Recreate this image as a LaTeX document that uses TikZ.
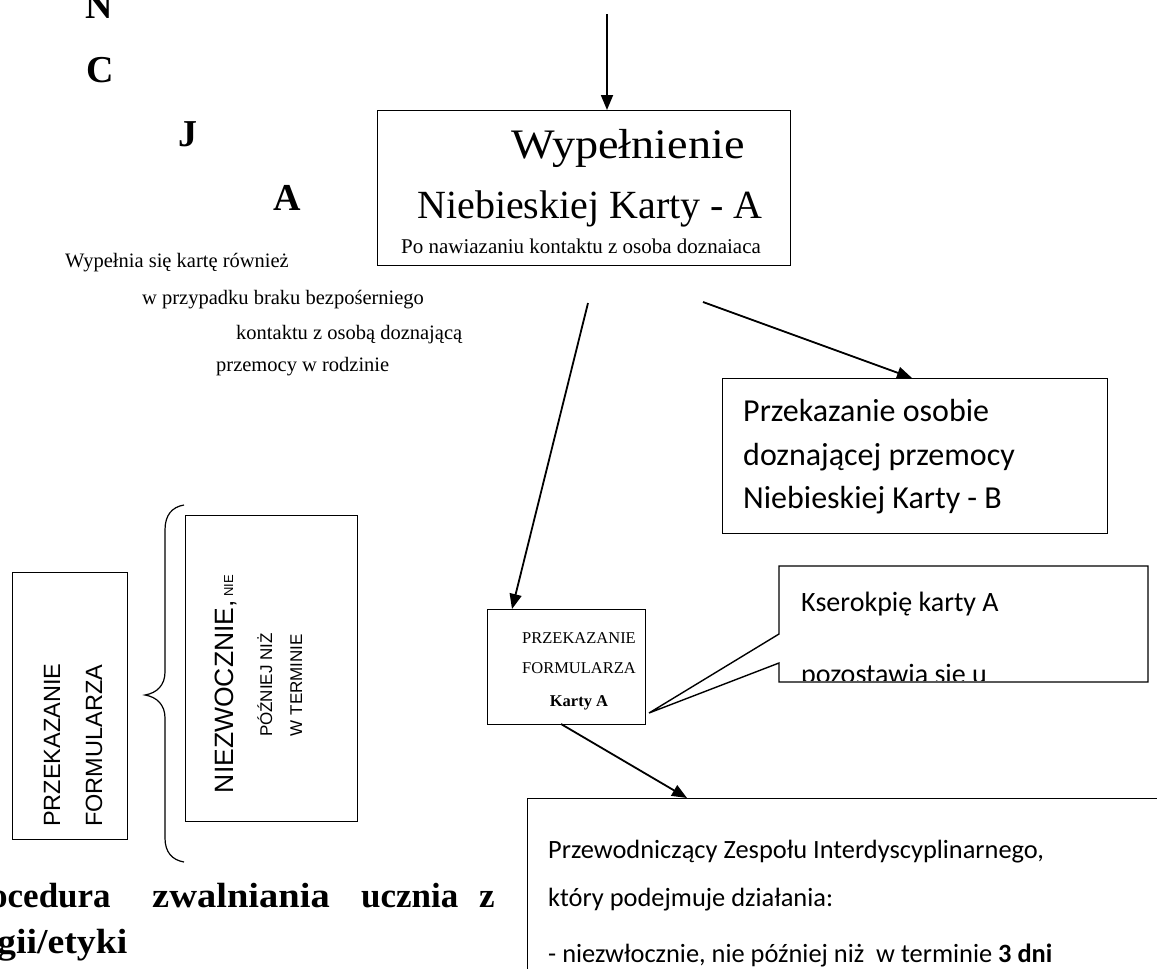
\documentclass[tikz,border=0pt]{standalone}
\usepackage{fontspec}
\setmainfont{Liberation Serif}
\newfontfamily\calib{Carlito}
\newfontfamily\arialf{Liberation Sans}
\usetikzlibrary{arrows.meta}
\begin{document}
\begin{tikzpicture}[x=1pt,y=-1pt,
  box/.style={draw, line width=1.4pt, inner sep=0pt, anchor=north west, fill=white},
  conn/.style={line width=1.8pt, -{Triangle[length=15pt,width=12pt]}},
  txt/.style={inner sep=0pt, anchor=base west},
  ctxt/.style={inner sep=0pt, anchor=base},
  big/.style={font=\bfseries\fontsize{38}{38}\selectfont},
  note/.style={txt, font=\fontsize{20.5}{20.5}\selectfont},
  ttl/.style={txt, font=\bfseries\fontsize{35}{35}\selectfont},
]
\useasboundingbox (0,0) rectangle (1157,969);
% letters
\node[txt,big] (lN) at (85,18) {N};
\node[txt,big] (lC) at (86,82) {C};
\node[txt,big] (lJ) at (178,146) {J};
\node[txt,big] (lA) at (273,210) {A};
% left note
\node[note] (n1) at (65,267) {Wypełnia się kartę również};
\node[note] (n2) at (142,304) {w przypadku braku bezpośerniego};
\node[note] (n3) at (236,339) {kontaktu z osobą doznającą};
\node[note] (n4) at (216,371) {przemocy w rodzinie};
% main box
\node[box, minimum width=413pt, minimum height=155pt] (main) at (377,110) {};
\node[ctxt,font=\fontsize{42}{42}\selectfont] (m1) at (628,158) {\scalebox{1.1}[1]{Wypełnienie}};
\node[ctxt,font=\fontsize{40}{40}\selectfont] (m2) at (590,218) {Niebieskiej Karty - A};
\node[ctxt,font=\fontsize{21}{21}\selectfont] (m3) at (581,253) {Po nawiazaniu kontaktu z osoba doznaiaca};
% right box B
\node[box, minimum width=385pt, minimum height=155pt] (kb) at (722,378) {};
\node[txt,font=\calib\fontsize{32}{32}\selectfont] (b1) at (743,421) {Przekazanie osobie};
\node[txt,font=\calib\fontsize{32}{32}\selectfont] (b2) at (743,465) {doznającej przemocy};
\node[txt,font=\calib\fontsize{32}{32}\selectfont] (b3) at (743,508) {Niebieskiej Karty - B};
% przekazanie formularza box
\node[box, minimum width=158pt, minimum height=115pt] (pf) at (487,609) {};
\node[ctxt,font=\fontsize{16.5}{16.5}\selectfont] (p1) at (579,643) {PRZEKAZANIE};
\node[ctxt,font=\fontsize{16.5}{16.5}\selectfont] (p2) at (579,673) {FORMULARZA};
\node[ctxt,font=\bfseries\fontsize{16.5}{16.5}\selectfont] (p3) at (579,706) {Karty A};
% callout
\coordinate (cu) at (779,634);
\coordinate (cl) at (779,663);
\coordinate (ct) at (649,713);
\draw[line width=1.4pt, fill=white] (cu) -- (779,566) -- (1148,566) -- (1148,682) -- (779,682) -- (cl) -- (ct) -- cycle;
\node[txt,font=\calib\fontsize{28}{28}\selectfont] (k1) at (801,611) {Kserokpię karty A};
\begin{scope}
\clip (780,640) rectangle (1147,680.5);
\node[txt,font=\calib\fontsize{28}{28}\selectfont] (k2) at (801,683) {pozostawia sie u};
\end{scope}
% bottom right box
\node[box, minimum width=700pt, minimum height=300pt] (pz) at (527,798) {};
\node[txt,font=\calib\fontsize{26.4}{26.4}\selectfont] (z1) at (548,858) {Przewodniczący Zespołu Interdyscyplinarnego,};
\node[txt,font=\calib\fontsize{26.4}{26.4}\selectfont] (z2) at (548,906) {który podejmuje działania:};
\node[txt,font=\calib\fontsize{26.4}{26.4}\selectfont] (z3) at (548,962) {- niezwłocznie, nie później niż~ w terminie \textbf{3 dni}};
% left rotated boxes
\node[box, minimum width=115pt, minimum height=267pt] (lf) at (12,572) {};
\node[txt,rotate=90,font=\arialf\fontsize{23.5}{23.5}\selectfont] (f1) at (60,827) {PRZEKAZANIE};
\node[txt,rotate=90,font=\arialf\fontsize{23.5}{23.5}\selectfont] (f2) at (102,827) {FORMULARZA};
\node[box, minimum width=172pt, minimum height=306pt] (nz) at (185,515) {};
\node[ctxt,rotate=90,font=\arialf\fontsize{26.5}{26.5}\selectfont] (z1r) at (233,684) {NIEZWOCZNIE,{\fontsize{13}{13}\selectfont{} NIE}};
\node[ctxt,rotate=90,font=\arialf\fontsize{17}{17}\selectfont] (z2r) at (272,685) {PÓŹNIEJ NIŻ};
\node[ctxt,rotate=90,font=\arialf\fontsize{17}{17}\selectfont] (z3r) at (302,685) {W TERMINIE};
% brace
\draw[line width=1.2pt] (184,505) .. controls (172,507) and (165,515) .. (165,530) -- (165,672) .. controls (165,685) and (157,693) .. (145,695) .. controls (157,697) and (165,705) .. (165,718) -- (165,838) .. controls (165,852) and (172,860) .. (184,862);
% title
\node[ttl] (t1) at (-10,907) {ocedura};
\node[ttl] (t2) at (152,907) {\scalebox{1.1}[1]{zwalniania}};
\node[ttl] (t3) at (361,907) {ucznia};
\node[ttl] (t4) at (479,907) {z};
\node[ttl] (t5) at (-3,953) {\scalebox{1.08}[1]{gii/etyki}};
% connectors
\coordinate (s0) at (607,14);
\coordinate (e0) at (607,110);
\draw[conn] (s0) -- (e0);
\coordinate (s1) at (588,303);
\coordinate (e1) at (512,609);
\draw[conn] (s1) -- (e1);
\coordinate (s2) at (703,302);
\coordinate (e2) at (912,378);
\draw[conn] (s2) -- (e2);
\coordinate (s3) at (561,724);
\coordinate (e3) at (687,798);
\draw[conn] (s3) -- (e3);
\end{tikzpicture}
\end{document}
